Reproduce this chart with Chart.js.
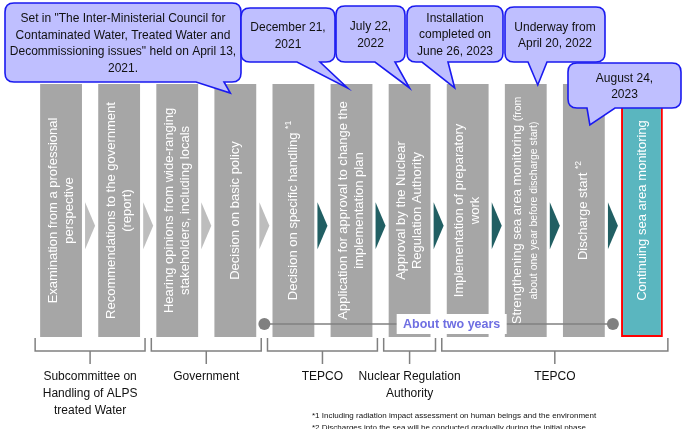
<!DOCTYPE html>
<html>
<head>
<meta charset="utf-8">
<script src="https://cdn.jsdelivr.net/npm/chart.js@4.4.1/dist/chart.umd.min.js"></script>
<style>
    html, body { margin: 0; padding: 0; background: #fff; }
    #wrap { width: 682px; height: 429px; }
</style>
</head>
<body>
<div id="wrap"><canvas id="flow-chart" width="682" height="429"></canvas></div>
<script>
// steps of the flow, one bar each ("^" = superscript, "_" = small text to end of line)
const stepLabels = [
    ['Examination from a professional', 'perspective'],
    ['Recommendations to the government', '(report)'],
    ['Hearing opinions from wide-ranging', 'stakeholders, including locals'],
    ['Decision on basic policy'],
    ['Decision on specific handling ^*1'],
    ['Application for approval to change the', 'implementation plan'],
    ['Approval by the Nuclear', 'Regulation Authority'],
    ['Implementation of preparatory', 'work'],
    ['Strengthening sea area monitoring _(from', '_about one year before discharge start)'],
    ['Discharge start ^*2'],
    ['Continuing sea area monitoring']
];
const stepHeights = [1, 1, 1, 1, 1, 1, 1, 1, 1, 1, 1];

// dates in the speech bubbles and the step each one points at
const milestoneText = [
    ['Set in "The Inter-Ministerial Council for', 'Contaminated Water, Treated Water and', 'Decommissioning issues" held on April 13,', '2021.'],
    ['December 21,', '2021'],
    ['July 22,', '2022'],
    ['Installation', 'completed on', 'June 26, 2023'],
    ['Underway from', 'April 20, 2022'],
    ['August 24,', '2023']
];
const milestoneStep = [3, 5, 6, 7, 8, 9];

// who is in charge of which steps
const groupLabels = [
    ['Subcommittee on', 'Handling of ALPS', 'treated Water'],
    ['Government'],
    ['TEPCO'],
    ['Nuclear Regulation', 'Authority'],
    ['TEPCO']
];
const groupFirst = [0, 2, 4, 6, 7];
const groupLast = [1, 3, 5, 6, 10];

const periodLabel = 'About two years';
const periodFromGap = 3;   // gap after "Decision on basic policy"
const periodToGap = 9;     // gap after "Discharge start"

const footnotes = [
    '*1 Including radiation impact assessment on human beings and the environment',
    '*2 Discharges into the sea will be conducted gradually during the initial phase.'
];

// bubble boxes (pixels) + tail base on the bottom edge, tip offset from the bar top
const bubbleLayout = [
    {x: 5, y: 3, w: 236, h: 79, tail: [196, 224], dx: -5, dy: 9},
    {x: 241, y: 8, w: 94, h: 54, tail: [297, 320], dx: -4, dy: 4},
    {x: 336, y: 6, w: 69, h: 56, tail: [375, 395], dx: 0, dy: 4},
    {x: 407, y: 6, w: 96, h: 56, tail: [422, 448], dx: -13, dy: 4},
    {x: 505, y: 7, w: 100, h: 55, tail: [528, 547], dx: 12, dy: 1},
    {x: 568, y: 63, w: 113, h: 45, tail: [587, 615], dx: 6, dy: 41}
];

const FONT = '"Liberation Sans", Arial, sans-serif';
const GRAY = '#A6A6A6', TEAL = '#5AB6BF', ARROW_GRAY = '#BDBDBD', ARROW_TEAL = '#215F63';
const LINE_GRAY = '#808080';

const segments = (line) => {
    const m = line.match(/^(.*?)([\^_])(.*)$/);
    if (!m) return [{t: line, size: 13, rise: 0}];
    const sup = m[2] === '^';
    return [{t: m[1], size: 13, rise: 0}, {t: m[3], size: sup ? 8.5 : 10.5, rise: sup ? 5 : 0}];
};

const richLine = (c, line, y) => {
    const segs = segments(line);
    let total = 0;
    segs.forEach((s) => { c.font = s.size + 'px ' + FONT; s.w = c.measureText(s.t).width; total += s.w; });
    let x = -total / 2;
    segs.forEach((s) => {
        c.font = s.size + 'px ' + FONT;
        c.fillText(s.t, x, y - s.rise);
        x += s.w;
    });
};

const bubblePath = (c, b, tipX, tipY) => {
    const r = 9, x0 = b.x, y0 = b.y, x1 = b.x + b.w, y1 = b.y + b.h;
    c.beginPath();
    c.moveTo(x0 + r, y0);
    c.lineTo(x1 - r, y0);
    c.quadraticCurveTo(x1, y0, x1, y0 + r);
    c.lineTo(x1, y1 - r);
    c.quadraticCurveTo(x1, y1, x1 - r, y1);
    c.lineTo(b.tail[1], y1);
    c.lineTo(tipX, tipY);
    c.lineTo(b.tail[0], y1);
    c.lineTo(x0 + r, y1);
    c.quadraticCurveTo(x0, y1, x0, y1 - r);
    c.lineTo(x0, y0 + r);
    c.quadraticCurveTo(x0, y0, x0 + r, y0);
    c.closePath();
};

const flowDecor = {
    id: 'flowDecor',
    afterDatasetsDraw(chart) {
        const c = chart.ctx, area = chart.chartArea, xs = chart.scales.x;
        const bars = chart.getDatasetMeta(0).data;
        const half = bars[0].width / 2;
        const px = (i) => xs.getPixelForValue(i);
        const gapX = (i) => (px(i) + px(i + 1)) / 2;

        c.save();
        c.textBaseline = 'middle';
        c.textAlign = 'left';
        c.fillStyle = '#FFFFFF';
        // rotated step texts
        bars.forEach((bar, i) => {
            const lines = stepLabels[i];
            const lh = 16;
            c.save();
            c.translate(bar.x, (bar.y + bar.base) / 2);
            c.rotate(-Math.PI / 2);
            lines.forEach((line, k) => richLine(c, line, (k - (lines.length - 1) / 2) * lh));
            c.restore();
        });

        // chevrons between steps
        const cy = area.top + area.height * 0.56;
        for (let i = 0; i < bars.length - 1; i++) {
            const gx = gapX(i);
            c.fillStyle = i < 4 ? ARROW_GRAY : ARROW_TEAL;
            c.beginPath();
            c.moveTo(gx - 5, cy - 23.5);
            c.lineTo(gx + 5, cy);
            c.lineTo(gx - 5, cy + 23.5);
            c.closePath();
            c.fill();
        }

        // about two years
        const py = area.bottom - 13;
        c.strokeStyle = LINE_GRAY;
        c.fillStyle = LINE_GRAY;
        c.lineWidth = 1.5;
        c.beginPath();
        c.moveTo(gapX(periodFromGap), py);
        c.lineTo(gapX(periodToGap), py);
        c.stroke();
        [gapX(periodFromGap), gapX(periodToGap)].forEach((x) => {
            c.beginPath();
            c.arc(x, py, 6, 0, Math.PI * 2);
            c.fill();
        });
        const lx = px(7) - 16;
        c.fillStyle = '#FFFFFF';
        c.fillRect(lx - 55, py - 10, 110, 20);
        c.font = 'bold 12.5px ' + FONT;
        c.fillStyle = '#6F6FE2';
        c.textAlign = 'center';
        c.fillText(periodLabel, lx, py + 1);

        // brackets + group names
        const top = area.bottom + 1, mid = area.bottom + 14, tick = area.bottom + 27;
        groupLabels.forEach((lines, g) => {
            const l = px(groupFirst[g]) - half - 5, r = px(groupLast[g]) + half + 5, m = (l + r) / 2;
            c.strokeStyle = LINE_GRAY;
            c.lineWidth = 1.5;
            c.beginPath();
            c.moveTo(l, top); c.lineTo(l, mid); c.lineTo(r, mid); c.lineTo(r, top);
            c.moveTo(m, mid); c.lineTo(m, tick);
            c.stroke();
            c.fillStyle = '#111111';
            c.font = '12px ' + FONT;
            lines.forEach((t, k) => c.fillText(t, m, area.bottom + 40 + k * 17));
        });

        // footnotes
        c.font = '8px ' + FONT;
        c.textAlign = 'left';
        c.fillStyle = '#111111';
        footnotes.forEach((t, k) => c.fillText(t, 312, area.bottom + 79 + k * 12));
        c.restore();
    },
    afterDraw(chart) {
        const c = chart.ctx, area = chart.chartArea, xs = chart.scales.x;
        c.save();
        c.textAlign = 'center';
        c.textBaseline = 'middle';
        milestoneText.forEach((lines, i) => {
            const b = bubbleLayout[i];
            const tipX = xs.getPixelForValue(milestoneStep[i]) + b.dx, tipY = area.top + b.dy;
            bubblePath(c, b, tipX, tipY);
            c.fillStyle = '#BFBFFF';
            c.fill();
            c.strokeStyle = '#1A1AF0';
            c.lineWidth = 1.6;
            c.stroke();
            c.fillStyle = '#111111';
            c.font = '12px ' + FONT;
            const lh = 16.5, cy = b.y + b.h / 2;
            lines.forEach((t, k) => c.fillText(t, b.x + b.w / 2, cy + (k - (lines.length - 1) / 2) * lh + 1));
        });
        c.restore();
    }
};

const ctx = document.getElementById('flow-chart').getContext('2d');
const lastStep = stepLabels.length - 1;

const flowChart = new Chart(ctx, {
    type: 'bar',
    data: {
        labels: stepLabels.map((l) => l.join(' ')),
        datasets: [{
            data: stepHeights,
            backgroundColor: (c) => c.dataIndex === lastStep ? TEAL : GRAY,
            borderColor: (c) => c.dataIndex === lastStep ? '#FF0000' : GRAY,
            borderWidth: (c) => c.dataIndex === lastStep ? 2 : 0,
            borderSkipped: false,
            barPercentage: 0.9,
            categoryPercentage: 0.8
        }]
    },
    options: {
        responsive: false,
        devicePixelRatio: 1,
        animation: false,
        layout: { padding: { left: 32, right: 11, top: 84, bottom: 92 } },
        scales: {
            x: { display: false },
            y: { display: false, min: 0, max: 1 }
        },
        plugins: {
            legend: { display: false },
            tooltip: { enabled: false }
        }
    },
    plugins: [flowDecor]
});
</script>
</body>
</html>
